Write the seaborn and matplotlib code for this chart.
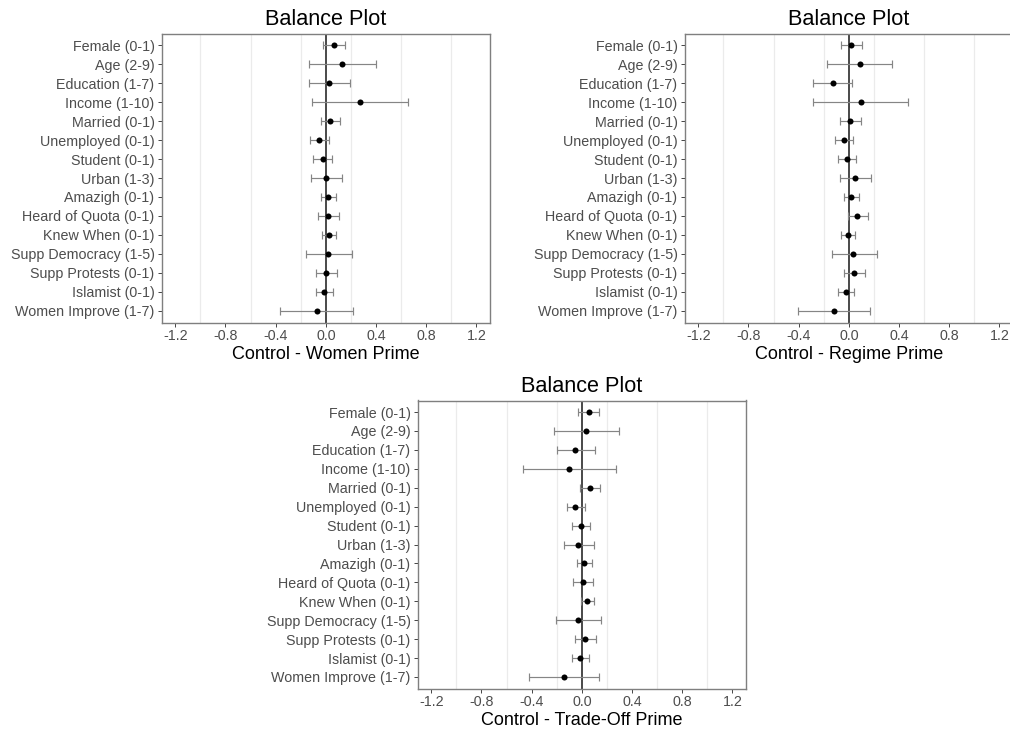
import numpy as np
import pandas as pd
import matplotlib
matplotlib.use("Agg")
import matplotlib.pyplot as plt
import seaborn as sns

variables = ["Female (0-1)", "Age (2-9)", "Education (1-7)", "Income (1-10)",
             "Married (0-1)", "Unemployed (0-1)", "Student (0-1)", "Urban (1-3)",
             "Amazigh (0-1)", "Heard of Quota (0-1)", "Knew When (0-1)",
             "Supp Democracy (1-5)", "Supp Protests (0-1)", "Islamist (0-1)",
             "Women Improve (1-7)"]

women_est = [0.064, 0.130, 0.029, 0.271, 0.035, -0.053, -0.024, 0.000, 0.021, 0.016, 0.029, 0.021, 0.003, -0.016, -0.074]
women_lo = [-0.019, -0.135, -0.133, -0.109, -0.042, -0.125, -0.101, -0.119, -0.037, -0.066, -0.027, -0.159, -0.080, -0.080, -0.364]
women_hi = [0.149, 0.396, 0.191, 0.658, 0.114, 0.024, 0.053, 0.125, 0.082, 0.104, 0.082, 0.207, 0.088, 0.056, 0.215]

regime_est = [0.021, 0.085, -0.128, 0.093, 0.011, -0.040, -0.016, 0.051, 0.021, 0.067, -0.003, 0.037, 0.045, -0.021, -0.117]
regime_lo = [-0.064, -0.176, -0.285, -0.285, -0.069, -0.112, -0.088, -0.069, -0.037, -0.008, -0.059, -0.138, -0.037, -0.085, -0.402]
regime_hi = [0.106, 0.343, 0.029, 0.474, 0.093, 0.032, 0.059, 0.173, 0.080, 0.149, 0.048, 0.221, 0.128, 0.045, 0.168]

trade_est = [0.056, 0.035, -0.053, -0.101, 0.061, -0.051, -0.008, -0.029, 0.021, 0.011, 0.043, -0.032, 0.027, -0.013, -0.144]
trade_lo = [-0.029, -0.223, -0.202, -0.473, -0.016, -0.117, -0.080, -0.146, -0.035, -0.069, -0.005, -0.210, -0.051, -0.077, -0.423]
trade_hi = [0.136, 0.293, 0.106, 0.271, 0.141, 0.024, 0.066, 0.093, 0.080, 0.090, 0.093, 0.149, 0.109, 0.056, 0.138]

panels = [
    ("Control - Women Prime", women_est, women_lo, women_hi),
    ("Control - Regime Prime", regime_est, regime_lo, regime_hi),
    ("Control - Trade-Off Prime", trade_est, trade_lo, trade_hi),
]

xticks = [-1.2, -0.8, -0.4, 0.0, 0.4, 0.8, 1.2]
minor_grid = [-1.0, -0.6, -0.2, 0.2, 0.6, 1.0]

sns.set_theme(style="white")
plt.rcParams["font.family"] = ["Liberation Sans", "DejaVu Sans"]

fig = plt.figure(figsize=(10.10, 7.29), dpi=100)
W, H = 1010, 729
boxes = [
    (161.5, 33.5, 328.7, 289.0),
    (684.5, 33.5, 328.7, 289.0),
    (417.5, 400.5, 328.7, 288.0),
]

for (xlabel, est, lo, hi), (l, t, w, h) in zip(panels, boxes):
    ax = fig.add_axes([l / W, 1 - (t + h) / H, w / W, h / H])
    df = pd.DataFrame({"variable": variables, "est": est, "lo": lo, "hi": hi})
    df["pos"] = np.arange(len(df))
    for g in minor_grid:
        ax.axvline(g, color="#ebebeb", lw=0.9, zorder=0)
    ax.axvline(0, color="#3a3a3a", lw=1.3, zorder=1)
    ax.errorbar(df["est"], df["pos"],
                xerr=[df["est"] - df["lo"], df["hi"] - df["est"]],
                fmt="none", ecolor="#858585", elinewidth=0.85, capsize=2.8,
                capthick=0.85, zorder=2)
    sns.scatterplot(data=df, x="est", y="pos", ax=ax, color="black", s=19,
                    edgecolor="black", linewidth=0, zorder=3, legend=False)
    ax.set_xlim(-1.31, 1.31)
    ax.set_ylim(len(df) - 1 + 0.61, -0.61)
    ax.set_yticks(df["pos"])
    ax.set_yticklabels(df["variable"])
    ax.set_xticks(xticks)
    ax.set_xticklabels([f"{v:.1f}".replace("\u2212", "-") for v in xticks])
    ax.tick_params(axis="both", length=3, width=0.7, color="#444444",
                   labelsize=10.3, labelcolor="#4d4d4d", pad=2, direction="out")
    ax.tick_params(axis="x", bottom=True)
    ax.tick_params(axis="y", left=True)
    for sp in ax.spines.values():
        sp.set_color("#7f7f7f")
        sp.set_linewidth(1.0)
    ax.set_xlabel(xlabel, fontsize=13, color="black", labelpad=2)
    ax.set_ylabel("")
    ax.set_title("Balance Plot", fontsize=15.6, color="black", pad=6)
    ax.grid(False)

fig.savefig("out.png", dpi=100)
